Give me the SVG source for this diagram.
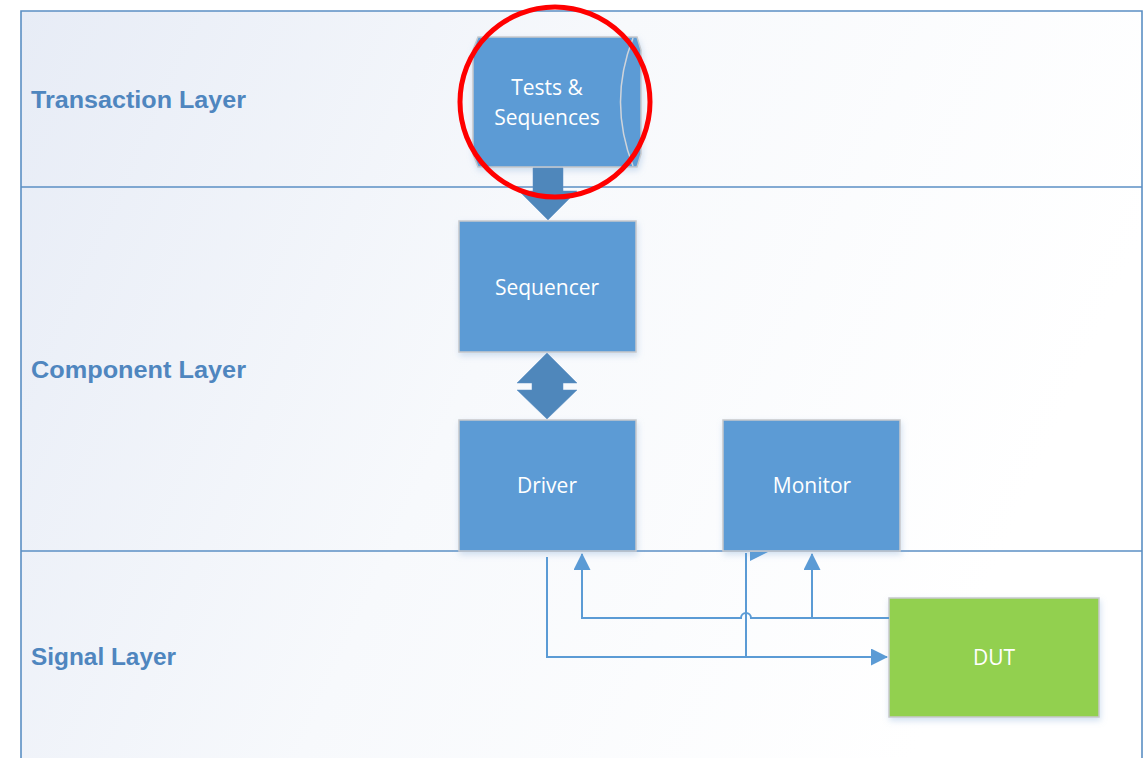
<svg xmlns="http://www.w3.org/2000/svg" width="1147" height="758" viewBox="0 0 1147 758">
<defs>
<linearGradient id="lane" x1="0" y1="0" x2="1" y2="0.3">
<stop offset="0" stop-color="#e7ecf6"/>
<stop offset="0.5" stop-color="#f7f9fc"/>
<stop offset="1" stop-color="#ffffff"/>
</linearGradient>
<filter id="sh" x="-10%" y="-10%" width="130%" height="130%">
<feDropShadow dx="1" dy="3" stdDeviation="3" flood-color="#7fa7d6" flood-opacity="0.35"/>
</filter>
<marker id="ahb" markerWidth="17" markerHeight="17" refX="16" refY="8.5" orient="auto" markerUnits="userSpaceOnUse" viewBox="0 0 17 17">
<path d="M0,0 L17,8.5 L0,17 z" fill="#5b9bd5"/>
</marker>
</defs>
<style>
.lanebg{fill:url(#lane);}
.laneline{stroke:#5b8fc4;stroke-width:1.6;fill:none;}
.lanelabel{font-family:"Liberation Sans",Arial,sans-serif;font-weight:bold;font-size:23px;fill:#4f86bf;}
.box{fill:#5b9bd5;stroke:#c7c9cc;stroke-width:1.5;filter:url(#sh);}
.dut{fill:#92d050;stroke:#c7c9cc;stroke-width:1.5;filter:url(#sh);}
.lbl{font-family:"Open Sans","Liberation Sans",sans-serif;font-size:21px;fill:#ffffff;text-anchor:middle;}
.conn{stroke:#5b9bd5;stroke-width:2;fill:none;}
.bigarrow{fill:#4f87bb;stroke:#5b8fc4;stroke-width:0.5;}
</style>
<rect width="1147" height="758" fill="#ffffff"/>
<g id="lanes">
<rect class="lanebg" x="21" y="11" width="1121" height="760"/>
<path class="laneline" d="M21,771 L21,11 L1142,11 L1142,771"/>
<line class="laneline" x1="21" y1="187" x2="1142" y2="187"/>
<line class="laneline" x1="21" y1="551" x2="1142" y2="551"/>
<text class="lanelabel" x="31" y="108" textLength="215" lengthAdjust="spacingAndGlyphs">Transaction Layer</text>
<text class="lanelabel" x="31" y="378" textLength="215" lengthAdjust="spacingAndGlyphs">Component Layer</text>
<text class="lanelabel" x="31" y="665" textLength="145" lengthAdjust="spacingAndGlyphs">Signal Layer</text>
</g>
<g id="tests">
<path class="box" d="M478,37 L637,37 L641,50 L641,154 L637,167 L478,167 L473,154 L473,50 Z"/>
<path d="M633,38 Q608,102 633,166" fill="none" stroke="#d0d4da" stroke-width="1.5"/>
<text class="lbl" x="547" y="95">Tests &amp;</text>
<text class="lbl" x="547" y="125">Sequences</text>
</g>
<g id="arrow-down">
<path class="bigarrow" d="M533,168 L563,168 L563,191 L577,191 L548,220 L519,191 L533,191 Z"/>
</g>
<g id="sequencer">
<rect class="box" x="459" y="221" width="177" height="131"/>
<text class="lbl" x="547" y="295">Sequencer</text>
</g>
<g id="arrow-double">
<path class="bigarrow" d="M547,353 L577,383 L563,383 L563,390 L577,390 L547,419 L517,390 L532,390 L532,383 L517,383 Z"/>
</g>
<g id="driver">
<rect class="box" x="459" y="420" width="177" height="131"/>
<text class="lbl" x="547" y="493">Driver</text>
</g>
<g id="monitor">
<rect class="box" x="723" y="420" width="177" height="131"/>
<text class="lbl" x="812" y="493">Monitor</text>
</g>
<g id="dut">
<rect class="dut" x="889" y="598" width="210" height="119"/>
<text class="lbl" x="994" y="665">DUT</text>
</g>
<g id="connectors">
<path class="conn" d="M547,557 L547,657 L887,657" marker-end="url(#ahb)"/>
<path class="conn" d="M746,657 L746,553"/>
<polygon points="750,552 768,552 750,561" fill="#5b9bd5"/>
<path class="conn" d="M889,618 L751,618 A5,5 0 0 0 741,618 L582,618 L582,554" marker-end="url(#ahb)"/>
<path class="conn" d="M812,618 L812,554" marker-end="url(#ahb)"/>
</g>
<g id="highlight">
<circle cx="555" cy="102" r="95" fill="none" stroke="#ff0000" stroke-width="5"/>
</g>
</svg>
